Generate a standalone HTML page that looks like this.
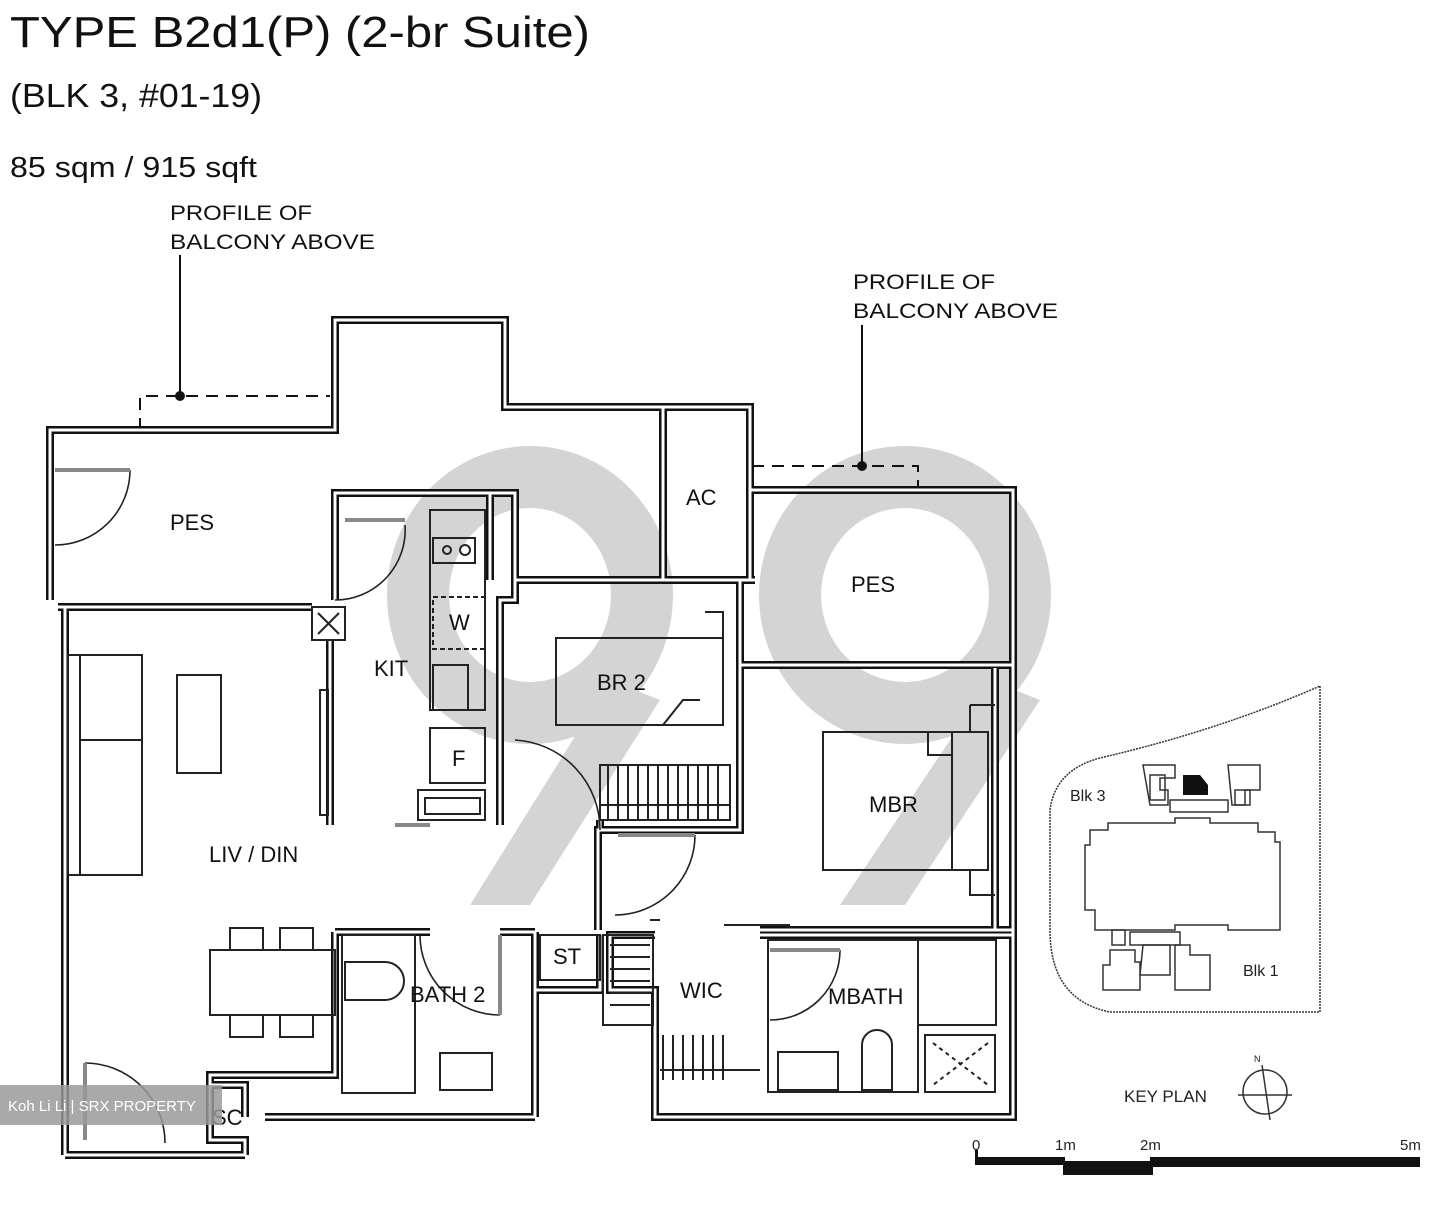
<!DOCTYPE html>
<html><head><meta charset="utf-8"><style>
html,body{margin:0;padding:0;background:#fff;}
svg{display:block;font-family:"Liberation Sans",sans-serif;}
</style></head><body>
<svg width="1439" height="1226" viewBox="0 0 1439 1226" xmlns="http://www.w3.org/2000/svg">
<rect width="1439" height="1226" fill="#fff"/>
<g fill="none" stroke="#d4d4d4">
<ellipse cx="530" cy="595" rx="112" ry="118" stroke-width="62"/>
<ellipse cx="905" cy="595" rx="115" ry="118" stroke-width="62"/>
</g>
<g fill="#d4d4d4">
<polygon points="610,680 660,700 530,905 470,905"/>
<polygon points="990,680 1040,700 905,905 840,905"/>
</g>
<g fill="#111">
<text x="10" y="47" font-size="44" textLength="580" lengthAdjust="spacingAndGlyphs">TYPE B2d1(P) (2-br Suite)</text>
<text x="10" y="107" font-size="33" textLength="252" lengthAdjust="spacingAndGlyphs">(BLK 3, #01-19)</text>
<text x="10" y="177" font-size="29" textLength="247" lengthAdjust="spacingAndGlyphs">85 sqm / 915 sqft</text>
<text x="170" y="220" font-size="21" textLength="142" lengthAdjust="spacingAndGlyphs">PROFILE OF</text>
<text x="170" y="249" font-size="21" textLength="205" lengthAdjust="spacingAndGlyphs">BALCONY ABOVE</text>
<text x="853" y="289" font-size="21" textLength="142" lengthAdjust="spacingAndGlyphs">PROFILE OF</text>
<text x="853" y="318" font-size="21" textLength="205" lengthAdjust="spacingAndGlyphs">BALCONY ABOVE</text>
</g>
<g stroke="#111" stroke-width="2" fill="none">
<line x1="180" y1="255" x2="180" y2="396"/>
<line x1="862" y1="325" x2="862" y2="466"/>
<path d="M140,430 V396 H330" stroke-dasharray="12,8"/>
<path d="M752,466 H918 V490" stroke-dasharray="12,8"/>
</g>
<circle cx="180" cy="396" r="5" fill="#111"/>
<circle cx="862" cy="466" r="5" fill="#111"/>
<defs>
<g id="walls">
<path d="M50,600 V430 H335 V320 H505 V407 H750 V580"/>
<path d="M663,407 V580"/>
<path d="M750,466 V490 H1013 V665"/>
<path d="M58,607 H312"/>
<path d="M65,607 V1155"/>
<path d="M335,600 V493 H490 V580"/>
<path d="M490,493 H515 V580 H755"/>
<path d="M330,640 V825"/>
<path d="M515,580 V600 H500 V825"/>
<path d="M740,580 V665 H755"/>
<path d="M755,665 H1013 V930 H995"/>
<path d="M995,668 V930 H760"/>
<path d="M740,665 V830 H598 V930"/>
<path d="M600,830 V820"/>
<path d="M1013,930 V1117 H655 V990 H610 V935 H655"/>
<path d="M335,932 H430 M500,932 H535 M535,932 V1117"/>
<path d="M335,932 V1075 H210 V1085"/>
<path d="M265,1117 H535"/>
<path d="M535,990 H600 V935"/>
<path d="M245,1117 V1085 H210 V1140 H245 V1155 M65,1155 H245"/>
<path d="M760,935 H1013"/>
</g>
</defs>
<g fill="none" stroke-linejoin="miter">
<use href="#walls" stroke="#111" stroke-width="8"/>
<use href="#walls" stroke="#fff" stroke-width="3"/>
</g>
<g fill="none" stroke="#222" stroke-width="2">
<rect x="312" y="607" width="33" height="33"/>
<path d="M318,613 L339,634 M339,613 L318,634"/>
<rect x="342" y="935" width="73" height="158"/>
<path d="M415,935 V1093"/>
<rect x="440" y="1053" width="52" height="37"/>
<path d="M345,962 H385 A16,16 0 0 1 385,1000 H345 Z"/>
<rect x="768" y="940" width="150" height="152"/>
<rect x="918" y="940" width="78" height="85"/>
<rect x="925" y="1035" width="70" height="57"/>
<path d="M933,1043 L988,1085 M988,1043 L933,1085" stroke-dasharray="4,4"/>
<rect x="778" y="1052" width="60" height="38"/>
<path d="M862,1090 V1045 A15,15 0 0 1 892,1045 V1090 Z"/>
<rect x="540" y="935" width="60" height="45"/>
<rect x="603" y="935" width="50" height="90"/>
<path d="M610,945 H650 M610,957 H650 M610,969 H650 M610,981 H650 M610,993 H650 M610,1005 H650"/>
<path d="M663,1035 V1080 M673,1035 V1080 M683,1035 V1080 M693,1035 V1080 M703,1035 V1080 M713,1035 V1080 M723,1035 V1080 M660,1070 H760"/>
<rect x="600" y="765" width="130" height="55"/>
<path d="M608,765 V820 M618,765 V820 M628,765 V820 M638,765 V820 M648,765 V820 M658,765 V820 M668,765 V820 M678,765 V820 M688,765 V820 M698,765 V820 M708,765 V820 M718,765 V820 M600,805 H730"/>
<rect x="556" y="638" width="167" height="87"/>
<path d="M705,612 H723 V638 M663,725 L683,700 H700"/>
<rect x="823" y="732" width="165" height="138"/>
<path d="M952,732 V870 M928,732 V755 H952"/>
<path d="M970,705 H995 M970,705 V732 M970,870 V895 H995"/>
<rect x="430" y="510" width="55" height="200"/>
<rect x="433" y="538" width="42" height="25"/>
<circle cx="447" cy="550" r="4"/><circle cx="465" cy="550" r="5"/>
<rect x="433" y="597" width="52" height="52" stroke-dasharray="5,3"/>
<rect x="433" y="665" width="35" height="45"/>
<rect x="430" y="728" width="55" height="55"/>
<rect x="418" y="790" width="67" height="30"/>
<rect x="425" y="798" width="55" height="16"/>
<rect x="68" y="655" width="74" height="220"/>
<path d="M80,655 V875 M80,740 H142"/>
<rect x="177" y="675" width="44" height="98"/>
<rect x="320" y="690" width="8" height="125"/>
<rect x="210" y="950" width="125" height="65"/>
<rect x="230" y="928" width="33" height="22"/><rect x="280" y="928" width="33" height="22"/>
<rect x="230" y="1015" width="33" height="22"/><rect x="280" y="1015" width="33" height="22"/>
<path d="M650,920 H660"/>
<path d="M724,925 H790"/>
</g>
<g fill="none" stroke="#222" stroke-width="1.6">
<path d="M55,545 A75,75 0 0 0 130,470"/>
<line x1="55" y1="470" x2="130" y2="470" stroke="#888" stroke-width="4"/>
<path d="M335,600 A70,70 0 0 0 405,525"/>
<line x1="345" y1="520" x2="405" y2="520" stroke="#888" stroke-width="4"/>
<path d="M515,740 A90,90 0 0 1 600,830"/>
<path d="M615,915 A80,80 0 0 0 695,835"/>
<line x1="618" y1="835" x2="695" y2="835" stroke="#888" stroke-width="4"/>
<path d="M420,935 A80,80 0 0 0 500,1015"/>
<line x1="500" y1="935" x2="500" y2="1015" stroke="#888" stroke-width="4"/>
<path d="M770,1020 A70,70 0 0 0 840,950"/>
<line x1="770" y1="950" x2="840" y2="950" stroke="#888" stroke-width="4"/>
<path d="M85,1063 A80,80 0 0 1 165,1143"/>
<line x1="85" y1="1063" x2="85" y2="1140" stroke="#888" stroke-width="4"/>
<path d="M395,825 H430" stroke="#888" stroke-width="4"/>
</g>
<g fill="#111" font-size="22">
<text x="170" y="530">PES</text>
<text x="686" y="505">AC</text>
<text x="851" y="592">PES</text>
<text x="374" y="676">KIT</text>
<text x="449" y="630">W</text>
<text x="452" y="766">F</text>
<text x="597" y="690">BR 2</text>
<text x="869" y="812">MBR</text>
<text x="209" y="862">LIV / DIN</text>
<text x="553" y="964">ST</text>
<text x="410" y="1002">BATH 2</text>
<text x="680" y="998">WIC</text>
<text x="828" y="1004">MBATH</text>
<text x="212" y="1125">SC</text>
</g>
<rect x="0" y="1085" width="222" height="40" fill="#9a9a9a" opacity="0.85"/>
<text x="8" y="1111" font-size="15" fill="#fff">Koh Li Li | SRX PROPERTY</text>
<g fill="none" stroke="#333" stroke-width="1.5">
<path d="M1320,686 V1012 H1110 Q1050,1000 1050,930 V810 Q1055,770 1100,758 Q1220,730 1320,686 Z" stroke-dasharray="2,1"/>
<path d="M1090,830 H1108 V823 H1175 V818 H1210 V823 H1258 V832 H1275 V842 H1280 V930 H1228 V925 H1175 V930 H1095 V910 H1085 V845 H1090 Z"/>
<path d="M1170,800 H1228 V812 H1170 Z"/>
<path d="M1143,765 H1175 V778 H1160 V790 H1168 V805 H1150 Z"/>
<path d="M1228,765 H1260 V790 H1245 V805 H1232 Z"/>
<path d="M1150,775 H1165 V800 H1150 Z"/>
<path d="M1235,790 H1250 V805 H1235 Z"/>
<path d="M1130,932 H1180 V945 H1130 Z"/>
<path d="M1110,950 H1135 V962 H1140 V990 H1103 V965 H1110 Z"/>
<path d="M1143,945 H1170 V975 H1140 Z"/>
<path d="M1175,945 H1190 V955 H1210 V990 H1175 Z"/>
<path d="M1112,930 H1125 V945 H1112 Z"/>
<circle cx="1265" cy="1092" r="22"/>
<path d="M1238,1095 H1292 M1262,1065 L1270,1120"/>
</g>
<path d="M1183,775 H1200 L1208,785 V795 H1183 Z" fill="#111"/>
<g fill="#222" font-size="16">
<text x="1070" y="801">Blk 3</text>
<text x="1243" y="976">Blk 1</text>
<text x="1124" y="1102" font-size="17">KEY PLAN</text>
<text x="1254" y="1062" font-size="9">N</text>
<text x="972" y="1150" font-size="15">0</text>
<text x="1055" y="1150" font-size="15">1m</text>
<text x="1140" y="1150" font-size="15">2m</text>
<text x="1400" y="1150" font-size="15">5m</text>
</g>
<g fill="#111">
<rect x="977" y="1157" width="88" height="8"/>
<rect x="1063" y="1161" width="90" height="14"/>
<rect x="1150" y="1157" width="270" height="10"/>
<rect x="975" y="1150" width="3" height="15"/>
</g>
</svg>
</body></html>
